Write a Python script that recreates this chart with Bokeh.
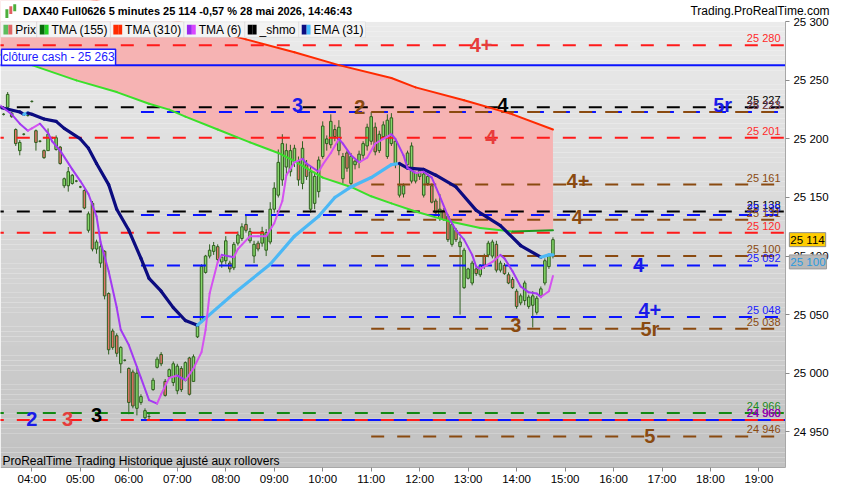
import numpy as np
from bokeh.plotting import figure
from bokeh.models import Range1d, FixedTicker, Label, BoxAnnotation
from bokeh.core.properties import value
from bokeh.embed import file_html
from bokeh.resources import INLINE

FONT = "Liberation Sans"

# ---- data -------------------------------------------------------------
first_bar = "03:25"          # 5 minute bars
bar_open = [25221, 25227, 25222, 25208, 25190, 25204, 25220, 25232, 25207, 25198,
            25190, 25190, 25201, 25191, 25193, 25160, 25160, 25162, 25164, 25159,
            25156, 25122, 25145, 25106, 25094, 25104, 25068, 25036, 25032, 25008,
            25011, 25004, 25001, 24970, 24975, 24962, 24963, 24986, 25005, 25016,
            24993, 24997, 24992, 24985, 25004, 24994, 25013, 24993, 25031, 25045,
            25086, 25100, 25104, 25108, 25095, 25096, 25094, 25090, 25111, 25115,
            25127, 25113, 25100, 25111, 25111, 25105, 25112, 25140, 25152, 25165,
            25176, 25172, 25180, 25181, 25162, 25178, 25140, 25145, 25155, 25185,
            25196, 25195, 25208, 25190, 25166, 25188, 25162, 25178, 25180, 25186,
            25194, 25198, 25210, 25190, 25202, 25185, 25196, 25178, 25152, 25153,
            25178, 25164, 25164, 25168, 25152, 25162, 25160, 25147, 25132, 25139,
            25134, 25110, 25122, 25108, 25073, 25081, 25077, 25089, 25084, 25100,
            25101, 25100, 25110, 25088, 25092, 25084, 25080, 25070, 25060, 25062,
            25057, 25058, 25052, 25066, 25077, 25091, 25100]
bar_high = [25222, 25240, 25223, 25209, 25199, 25205, 25221, 25233, 25208, 25199,
            25191, 25209, 25202, 25203, 25194, 25167, 25176, 25170, 25165, 25160,
            25157, 25138, 25147, 25114, 25111, 25105, 25069, 25038, 25034, 25023,
            25012, 25005, 25003, 25006, 24982, 24970, 24966, 24996, 25014, 25018,
            24995, 25004, 25010, 25008, 25006, 25010, 25014, 25016, 25042, 25093,
            25101, 25110, 25112, 25110, 25101, 25117, 25096, 25112, 25121, 25128,
            25135, 25124, 25113, 25113, 25125, 25123, 25146, 25163, 25191, 25204,
            25196, 25195, 25195, 25185, 25198, 25182, 25176, 25172, 25185, 25215,
            25203, 25221, 25212, 25216, 25188, 25190, 25188, 25182, 25190, 25198,
            25213, 25223, 25214, 25207, 25215, 25221, 25222, 25200, 25178, 25162,
            25190, 25197, 25172, 25174, 25172, 25170, 25162, 25149, 25153, 25141,
            25136, 25130, 25124, 25116, 25107, 25090, 25096, 25092, 25093, 25102,
            25113, 25114, 25113, 25096, 25094, 25086, 25082, 25072, 25068, 25079,
            25067, 25070, 25066, 25074, 25098, 25102, 25116]
bar_low = [25220, 25226, 25218, 25194, 25186, 25203, 25219, 25231, 25190, 25197,
           25183, 25190, 25200, 25190, 25178, 25158, 25155, 25161, 25163, 25158,
           25140, 25120, 25104, 25102, 25090, 25063, 25016, 25020, 25014, 25000,
           25010, 24965, 24970, 24964, 24973, 24960, 24960, 24985, 25004, 25006,
           24980, 24996, 24989, 24982, 24984, 24993, 24981, 24993, 25030, 25043,
           25085, 25098, 25101, 25094, 25090, 25093, 25086, 25088, 25109, 25113,
           25120, 25111, 25094, 25104, 25108, 25100, 25110, 25137, 25150, 25160,
           25168, 25168, 25176, 25160, 25157, 25165, 25137, 25140, 25150, 25183,
           25190, 25192, 25198, 25186, 25162, 25172, 25160, 25174, 25175, 25183,
           25190, 25195, 25186, 25188, 25200, 25183, 25194, 25175, 25150, 25150,
           25176, 25162, 25162, 25165, 25150, 25160, 25145, 25136, 25130, 25130,
           25112, 25108, 25112, 25050, 25072, 25080, 25075, 25083, 25082, 25089,
           25099, 25098, 25086, 25086, 25084, 25076, 25072, 25055, 25058, 25058,
           25055, 25039, 25050, 25064, 25075, 25089, 25098]
bar_close = [25221, 25238, 25219, 25196, 25197, 25204, 25220, 25232, 25197, 25198,
             25184, 25204, 25201, 25201, 25179, 25166, 25172, 25169, 25164, 25159,
             25141, 25136, 25106, 25112, 25108, 25066, 25020, 25022, 25017, 25022,
             25011, 24975, 24972, 25000, 24980, 24968, 24963, 24994, 25012, 25008,
             24981, 25003, 25008, 25006, 24986, 25009, 24982, 25014, 25041, 25091,
             25100, 25105, 25109, 25097, 25099, 25113, 25089, 25110, 25118, 25125,
             25122, 25121, 25110, 25106, 25121, 25120, 25140, 25158, 25180, 25196,
             25190, 25190, 25192, 25165, 25192, 25168, 25172, 25168, 25182, 25211,
             25200, 25215, 25202, 25210, 25185, 25175, 25185, 25181, 25187, 25196,
             25210, 25219, 25189, 25204, 25212, 25216, 25218, 25198, 25160, 25160,
             25188, 25194, 25171, 25173, 25170, 25168, 25146, 25137, 25140, 25131,
             25114, 25127, 25114, 25112, 25105, 25089, 25094, 25085, 25092, 25091,
             25111, 25112, 25088, 25094, 25085, 25077, 25073, 25057, 25066, 25077,
             25065, 25066, 25064, 25072, 25096, 25100, 25114]

tma6_t = ["03:20", "03:35", "03:45", "03:55", "04:00", "04:10", "04:20", "04:25", "04:35",
          "04:50", "05:00", "05:10", "05:20", "05:25", "05:35", "05:45", "05:50", "06:00",
          "06:15", "06:25", "06:35", "06:40", "06:50", "07:00", "07:10", "07:20", "07:30",
          "07:35", "07:40", "07:50", "07:55", "08:10", "08:15", "08:30", "08:40", "08:50",
          "09:00", "09:10", "09:15", "09:25", "09:35", "09:40", "09:55", "10:00", "10:10",
          "10:20", "10:25", "10:35", "10:45", "10:55", "11:05", "11:20", "11:25", "11:30",
          "11:40", "11:45", "11:55", "12:05", "12:15", "12:25", "12:35", "12:45", "12:55",
          "13:05", "13:10", "13:15", "13:30", "13:40", "13:45", "13:55", "14:05", "14:15",
          "14:25", "14:30", "14:40", "14:45"]
tma6_v = [25229, 25221, 25213, 25207, 25209, 25213, 25205, 25198, 25190,
          25174, 25164, 25153, 25134, 25112, 25087, 25056, 25037, 25024,
          24996, 24977, 24974, 24982, 24996, 24998, 24994, 25004, 25018,
          25037, 25068, 25095, 25101, 25099, 25106, 25117, 25117, 25117,
          25128, 25147, 25169, 25180, 25183, 25179, 25172, 25178, 25188,
          25200, 25196, 25186, 25180, 25184, 25196, 25202, 25204, 25200,
          25186, 25175, 25171, 25172, 25167, 25151, 25134, 25122, 25114,
          25101, 25091, 25089, 25095, 25101, 25098, 25087, 25074, 25069,
          25068, 25065, 25070, 25083]

ema31_t = ["03:20", "03:45", "03:50", "03:55", "04:00", "04:15", "04:30", "04:40", "05:00",
           "05:10", "05:20", "05:35", "05:45", "06:00", "06:15", "06:25", "06:40", "06:55",
           "07:10", "07:25", "07:30", "08:10", "08:55", "09:25", "09:55", "10:15", "10:35",
           "11:00", "11:25", "11:35", "11:45", "12:05", "12:20", "12:45", "13:10", "13:40",
           "14:05", "14:30", "14:40", "14:45"]
ema31_v = [25227, 25223, 25221, 25222, 25221, 25217, 25215, 25209, 25200,
           25192, 25179, 25161, 25140, 25122, 25098, 25081, 25070, 25056,
           25045, 25041, 25044, 25068, 25093, 25117, 25134, 25150, 25159,
           25167, 25178, 25179, 25175, 25174, 25169, 25159, 25139, 25126,
           25109, 25099, 25101, 25101]

tma155_t = ["03:20", "04:00", "04:55", "05:45", "06:25", "06:50", "07:10", "07:50", "08:30",
            "09:05", "09:25", "10:00", "10:35", "11:00", "11:25", "11:55", "12:35", "13:15",
            "13:55", "14:45"]
tma155_v = [25272, 25263, 25250, 25240, 25230, 25225, 25219, 25208, 25197,
            25188, 25181, 25167, 25159, 25151, 25145, 25138, 25130, 25124,
            25121, 25122]

tma310_t = ["03:20", "05:20", "07:25", "08:25", "09:25", "10:20", "11:25", "11:55", "12:55",
            "13:55", "14:45"]
tma310_v = [25340, 25318, 25296, 25285, 25274, 25263, 25252, 25244, 25233, 25221, 25208]

level_price = [25280, 25263, 25227, 25223, 25223, 25201, 25161, 25138, 25135, 25131,
               25120, 25100, 25092, 25048, 25038, 24966, 24960, 24960, 24946]
level_kind = ["red", "cash", "black", "blue", "brown", "red", "brown", "black", "blue", "brown",
              "red", "brown", "blue", "blue", "brown", "green", "blue_solid", "red", "brown"]
extra_label_price = [24960]      # purple level label

big_text = ["4+", "3", "2", "4", "5r", "4", "4+", "4", "4", "4+", "5r", "3", "5", "2", "3", "3"]
big_time = ["13:16", "09:29", "10:46", "13:43", "18:15", "13:28", "15:16", "15:15", "16:31",
            "16:45", "16:45", "13:59", "16:45", "04:00", "04:44", "05:20"]
big_price = [25280, 25229, 25227, 25229, 25229, 25202, 25164, 25133, 25092,
             25054, 25038, 25041, 24946, 24961, 24961, 24964]
big_kind = ["red", "blue", "brown", "black", "blue", "red", "brown", "brown", "blue",
            "blue", "brown", "brown", "brown", "blue", "red", "black"]

y_ticks = [24950, 25000, 25050, 25100, 25150, 25200, 25250, 25300]
x_ticks = list(range(4, 20))

last_price = 25114
ema_last = 25100

# ---- helpers -----------------------------------------------------------
def hours(s):
    h, m = s.split(":")
    return int(h) + int(m) / 60


def fmt(v):
    return f"{v // 1000} {v % 1000:03d}"


LINE = {"red": "#ff1a1a", "black": "#000000", "blue": "#0a14ff", "brown": "#8a4a10",
        "green": "#128a12", "cash": "#0a14ff", "blue_solid": "#0a14ff"}
TXT = {"red": "#ff2a2a", "black": "#000000", "blue": "#1a1aff", "brown": "#8a4a10",
       "green": "#1a8a1a", "blue_solid": "#1a1aff"}
BIG = {"red": "#e63c3c", "blue": "#1a1ae8", "brown": "#8a4a10", "black": "#000000"}
START = {"blue": "06:15", "blue_solid": "06:15", "brown": "11:00"}

# whole canvas is the frame; the price panel is a part of it
W, H = 834, 484
SX, SY = W / 850, H / 500
XMIN, XMAX = 3.3522, 20.5587          # canvas edges in hours
YMIN, YMAX = 24904.96, 25318.18       # canvas edges in price
X_EDGE = 19.547                       # right edge of the price panel
Y_TOP, Y_BOT = 25300.0, 24919.83      # top / bottom of the price panel


def sx(x):
    return x * SX


def sy(y):
    return H - y * SY


p = figure(frame_width=W, frame_height=H, x_range=Range1d(XMIN, XMAX),
           y_range=Range1d(YMIN, YMAX), y_axis_location="right",
           toolbar_location=None, output_backend="svg",
           min_border=0, min_border_left=0, min_border_right=0,
           min_border_top=0, min_border_bottom=0)
p.outline_line_color = None
p.border_fill_color = "white"
p.background_fill_color = "white"
p.xgrid.visible = False
p.ygrid.visible = False

for ax in (p.xaxis[0], p.yaxis[0]):
    ax.axis_line_color = "#a8a8a8"
    ax.major_tick_line_color = "#8a8a8a"
    ax.major_tick_in = 0
    ax.major_tick_out = 4
    ax.minor_tick_line_color = None
    ax.major_label_text_font = FONT
    ax.major_label_text_font_size = "11.5px"
    ax.major_label_text_color = "#000000"

p.yaxis.fixed_location = X_EDGE
p.yaxis.bounds = (Y_BOT, Y_TOP)
p.yaxis.major_label_standoff = 4
p.yaxis.ticker = FixedTicker(ticks=y_ticks)
p.yaxis.major_label_overrides = {t: fmt(t) for t in y_ticks}
p.xaxis.fixed_location = Y_BOT
p.xaxis.bounds = (XMIN, X_EDGE)
p.xaxis.major_label_standoff = 2
p.xaxis.ticker = FixedTicker(ticks=x_ticks)
p.xaxis.major_label_overrides = {t: f"{t:02d}:00" for t in x_ticks}

# background gradient of the price panel
edges = np.linspace(Y_BOT, Y_TOP, 93)
shades = np.linspace(194, 235, 92).astype(int)
p.quad(left=XMIN, right=X_EDGE, bottom=edges[:-1], top=edges[1:],
       color=[f"#{s:02x}{s:02x}{s:02x}" for s in shades], line_color=None)

# pink zone between TMA(155) and TMA(310)
zx = [hours(t) for t in tma310_t] + [hours(t) for t in tma155_t][::-1]
zy = tma310_v + tma155_v[::-1]
p.patch(zx, zy, fill_color="#f6b3b3", line_color=None)

# candles
t0 = hours(first_bar)
bx = [t0 + k * 5 / 60 for k in range(len(bar_close))]
body_top = [max(o, c) for o, c in zip(bar_open, bar_close)]
body_bot = [min(o, c) for o, c in zip(bar_open, bar_close)]
fills = ["#86d86a" if c >= o else "#e2756a" for o, c in zip(bar_open, bar_close)]
p.segment(bx, bar_high, bx, bar_low, line_color="#2f5f1f", line_width=1)
p.vbar(x=bx, width=0.052, top=body_top, bottom=body_bot, fill_color=fills,
       line_color="#2f5f1f", line_width=1)

# horizontal levels
for price, kind in zip(level_price, level_kind):
    solid = kind in ("cash", "blue_solid")
    start = hours(START[kind]) if kind in START else XMIN - 0.2
    p.segment(start, price, X_EDGE, price, line_color=LINE[kind], line_width=2,
              line_dash="solid" if solid else "13 13")

lab_y, lab_t, lab_c = [], [], []
for price, kind in zip(level_price, level_kind):
    if kind == "cash":
        continue
    lab_y.append(price)
    lab_t.append(fmt(price))
    lab_c.append(TXT[kind])
for price in extra_label_price:
    lab_y.append(price)
    lab_t.append(fmt(price))
    lab_c.append("#8000c8")
p.text([19.445] * len(lab_y), lab_y, text=lab_t, text_color=lab_c, text_font=value(FONT),
       text_font_size="11px", text_align="right", text_baseline="bottom", y_offset=-1)


# moving averages, coloured by slope
def slope_line(ts, vs, up, down, width):
    xs = [hours(t) for t in ts]
    col = [up if vs[i + 1] >= vs[i] else down for i in range(len(vs) - 1)]
    p.segment(xs[:-1], vs[:-1], xs[1:], vs[1:], line_color=col, line_width=width,
              line_cap="round")


slope_line(tma310_t, tma310_v, "#ff2a00", "#ff2a00", 2)
slope_line(tma155_t, tma155_v, "#1d9a1d", "#3ae02a", 2)
slope_line(ema31_t, ema31_v, "#4cb8f5", "#0c0c80", 3.2)
slope_line(tma6_t, tma6_v, "#d452f0", "#a23af2", 2)

# level tags
p.text([hours(t) for t in big_time], big_price, text=big_text,
       text_color=[BIG[k] for k in big_kind], text_font=value(FONT),
       text_font_size="20px", text_font_style="bold", text_align="center",
       text_baseline="middle")

# white margins around the price panel (header, price scale, time scale)
p.quad(left=[XMIN - 1, X_EDGE, XMIN - 1], right=[XMAX + 1, XMAX + 1, XMAX + 1],
       bottom=[Y_TOP, YMIN - 10, YMIN - 10], top=[YMAX + 10, YMAX + 10, Y_BOT],
       color="white", line_color=None)

# legend row
legend_boxes = [(0, 37), (37, 112), (112, 187), (187, 249), (249, 304), (304, 372)]
legend_names = ["Prix", "TMA (155)", "TMA (310)", "TMA (6)", "_shmo", "EMA (31)"]
legend_cols = [("#5cbc5c", "#e06464"), ("#0a6a0a", "#22d022"), ("#ff2a00", "#ff2a00"),
               ("#9a28ee", "#d846ff"), ("#000000", "#000000"), ("#0c0c80", "#44bbff")]


def box(l, r, t, b, color, line=None):
    p.add_layout(BoxAnnotation(left=sx(l), right=sx(r), top=sy(t), bottom=sy(b),
                               left_units="screen", right_units="screen",
                               top_units="screen", bottom_units="screen",
                               fill_color=color, fill_alpha=1, line_color=line,
                               line_width=1))


for (a, b), name, (c1, c2) in zip(legend_boxes, legend_names, legend_cols):
    box(a, b, 22, 38, "#f4f4f4", "#c6c6c6")
    box(a + 3, a + 8, 25, 35, c1)
    box(a + 8, a + 12, 25, 35, c2)
    p.add_layout(Label(x=sx(a + 15), y=sy(30), x_units="screen", y_units="screen",
                       text=name, text_font=FONT, text_font_size="12px",
                       text_baseline="middle", text_color="#000000"))

# small candle icon of the header
box(5, 8, 9, 18, "#4caf3c")
box(9, 12, 6, 14, "#e06060")
box(13, 16, 4, 11, "#4caf3c")

# cash close tag
p.add_layout(Label(x=1, y=level_price[1], x_units="screen", y_units="data",
                   text=f"clôture cash - {fmt(level_price[1])}", text_font=FONT,
                   text_font_size="12px", text_color="#1a1aff", text_baseline="bottom",
                   background_fill_color="white", border_line_color="#1a1aff",
                   border_line_width=1.5, padding=1))

# price tags on the price scale
p.add_layout(Label(x=sx(804), y=last_price, x_units="screen", y_units="data",
                   text=fmt(last_price), text_font=FONT, text_font_size="11.5px",
                   text_baseline="middle", text_color="#000000",
                   background_fill_color="#ffcc00", border_line_color="#8c8c8c", padding=1))
p.add_layout(Label(x=sx(804), y=ema_last - 5, x_units="screen", y_units="data",
                   text=fmt(ema_last), text_font=FONT, text_font_size="11.5px",
                   text_baseline="middle", text_color="#2a9ae0",
                   background_fill_color="#b8b8b8", border_line_color="#9a9a9a", padding=1))

# header and footer texts
p.add_layout(Label(x=sx(23), y=sy(11), x_units="screen", y_units="screen",
                   text="DAX40 Full0626 5 minutes 25 114 -0,57 % 28 mai 2026, 14:46:43",
                   text_font=FONT, text_font_size="11px", text_font_style="bold",
                   text_baseline="middle", text_color="#000000"))
p.add_layout(Label(x=sx(845), y=sy(11), x_units="screen", y_units="screen",
                   text="Trading.ProRealTime.com", text_font=FONT, text_font_size="12px",
                   text_align="right", text_baseline="middle", text_color="#000000"))
p.add_layout(Label(x=sx(2), y=sy(476), x_units="screen", y_units="screen",
                   text="ProRealTime Trading  Historique ajusté aux rollovers",
                   text_font=FONT, text_font_size="12px", text_baseline="middle",
                   text_color="#000000"))

open("out.html", "w").write(file_html(p, INLINE, "DAX40"))
